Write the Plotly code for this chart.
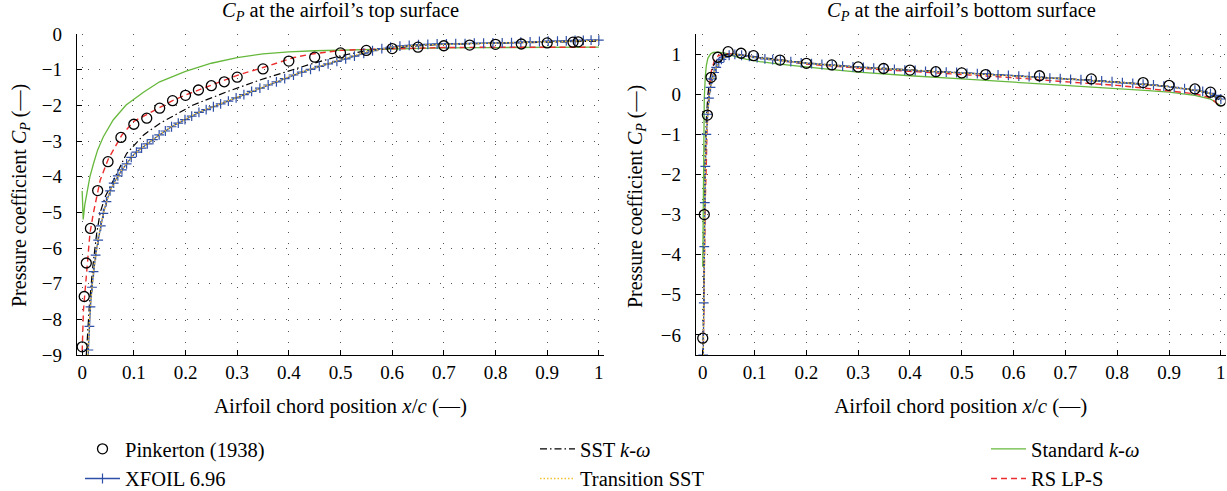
import plotly.graph_objects as go

FONT = "Liberation Serif"

# ---------------- Top surface ----------------
pink_top_x = [0.0, 0.004, 0.008, 0.016, 0.03, 0.05, 0.075, 0.1, 0.125, 0.15, 0.175, 0.2, 0.225,
              0.25, 0.275, 0.3, 0.35, 0.4, 0.45, 0.5, 0.55, 0.6, 0.65, 0.7, 0.75, 0.8, 0.85,
              0.9, 0.95, 0.96]
pink_top_y = [-8.77, -7.36, -6.42, -5.45, -4.39, -3.58, -2.90, -2.53, -2.36, -2.08, -1.87, -1.72,
              -1.57, -1.45, -1.34, -1.21, -0.98, -0.76, -0.65, -0.53, -0.46, -0.41, -0.37,
              -0.33, -0.31, -0.29, -0.28, -0.25, -0.23, -0.22]

xfoil_top_x = [0.012, 0.014, 0.016, 0.019, 0.022, 0.026, 0.031, 0.036, 0.041, 0.047, 0.054, 0.061,
               0.069, 0.077, 0.086, 0.095, 0.105, 0.115, 0.126, 0.137, 0.149, 0.161, 0.173, 0.186,
               0.199, 0.212, 0.226, 0.240, 0.254, 0.268, 0.283, 0.298, 0.313, 0.328, 0.344, 0.360,
               0.376, 0.392, 0.409, 0.425, 0.442, 0.459, 0.476, 0.493, 0.510, 0.527, 0.545, 0.562,
               0.580, 0.597, 0.615, 0.633, 0.651, 0.669, 0.687, 0.705, 0.723, 0.741, 0.759, 0.777,
               0.795, 0.813, 0.831, 0.849, 0.867, 0.885, 0.902, 0.920, 0.937, 0.954, 0.970, 0.985, 1.0]
xfoil_top_y = [-8.86, -8.2, -7.65, -7.1, -6.66, -6.2, -5.78, -5.38, -5.03, -4.7, -4.40, -4.18,
               -3.98, -3.81, -3.64, -3.46, -3.31, -3.20, -3.08, -2.96, -2.83, -2.72, -2.60, -2.50,
               -2.40, -2.30, -2.20, -2.12, -2.04, -1.96, -1.88, -1.79, -1.70, -1.61, -1.52, -1.43,
               -1.34, -1.25, -1.15, -1.07, -0.99, -0.91, -0.84, -0.77, -0.70, -0.62, -0.54, -0.47,
               -0.41, -0.37, -0.34, -0.32, -0.30, -0.29, -0.28, -0.28, -0.27, -0.27, -0.26, -0.26,
               -0.25, -0.25, -0.24, -0.23, -0.22, -0.21, -0.20, -0.20, -0.19, -0.18, -0.18, -0.17, -0.17]

sst_top_x = [0.008, 0.010, 0.014, 0.02, 0.028, 0.035, 0.045, 0.061, 0.086, 0.119, 0.151, 0.215,
             0.28, 0.344, 0.409, 0.441, 0.5, 0.55, 0.6, 0.65, 0.7, 0.8, 0.9, 1.0]
sst_top_y = [-9.0, -8.5, -7.6, -6.6, -5.6, -5.0, -4.55, -4.09, -3.35, -2.83, -2.50, -1.99,
             -1.62, -1.29, -0.99, -0.85, -0.61, -0.47, -0.40, -0.33, -0.29, -0.26, -0.22, -0.20]

trans_top_x = [0.011, 0.015, 0.022, 0.031, 0.041, 0.054, 0.077, 0.1, 0.13, 0.17, 0.22, 0.28,
               0.344, 0.41, 0.44, 0.5, 0.55, 0.6, 0.65, 0.7, 0.8, 0.9, 1.0]
trans_top_y = [-9.0, -7.8, -6.65, -5.75, -5.03, -4.39, -3.80, -3.38, -3.03, -2.62, -2.23, -1.89,
               -1.51, -1.14, -0.99, -0.73, -0.50, -0.37, -0.31, -0.29, -0.26, -0.21, -0.18]

std_top_x = [0.0, 0.001, 0.002, 0.005, 0.009, 0.015, 0.022, 0.03, 0.041, 0.06, 0.085, 0.12, 0.15,
             0.2, 0.25, 0.3, 0.35, 0.4, 0.45, 0.5, 0.55, 0.6, 0.7, 0.8, 0.9, 1.0]
std_top_y = [-4.4, -4.9, -5.2, -4.8, -4.45, -4.0, -3.63, -3.25, -2.88, -2.41, -1.99, -1.62, -1.34,
             -1.05, -0.82, -0.66, -0.56, -0.50, -0.47, -0.45, -0.44, -0.41, -0.39, -0.38, -0.38, -0.37]

rs_top_x = [0.0, 0.0025, 0.008, 0.015, 0.022, 0.035, 0.051, 0.077, 0.1, 0.125, 0.151, 0.175, 0.2,
            0.25, 0.3, 0.35, 0.41, 0.44, 0.5, 0.55, 0.6, 0.7, 0.8, 0.9, 1.0]
rs_top_y = [-8.9, -7.74, -6.8, -5.59, -5.0, -4.09, -3.49, -2.83, -2.45, -2.25, -2.05, -1.87, -1.71,
            -1.43, -1.16, -0.94, -0.66, -0.57, -0.46, -0.43, -0.41, -0.38, -0.37, -0.37, -0.37]

# ---------------- Bottom surface ----------------
pink_bot_x = [0.0, 0.003, 0.009, 0.016, 0.029, 0.049, 0.074, 0.098, 0.149, 0.2, 0.249, 0.3, 0.349,
              0.4, 0.45, 0.5, 0.546, 0.65, 0.75, 0.85, 0.9, 0.95, 0.98, 1.0]
pink_bot_y = [-6.08, -3.0, -0.52, 0.42, 0.92, 1.06, 1.02, 0.96, 0.85, 0.77, 0.73, 0.68, 0.64,
              0.60, 0.56, 0.53, 0.49, 0.46, 0.38, 0.29, 0.22, 0.13, 0.05, -0.17]

xfoil_bot_x = [0.001, 0.002, 0.003, 0.004, 0.005, 0.007, 0.009, 0.012, 0.015, 0.018, 0.022, 0.026,
               0.031, 0.036, 0.041, 0.051, 0.062, 0.075, 0.09, 0.105, 0.12, 0.135, 0.15, 0.17,
               0.19, 0.21, 0.23, 0.25, 0.27, 0.29, 0.31, 0.33, 0.35, 0.37, 0.39, 0.41, 0.43, 0.45,
               0.47, 0.49, 0.51, 0.53, 0.55, 0.57, 0.59, 0.61, 0.63, 0.65, 0.67, 0.69, 0.71, 0.73,
               0.75, 0.77, 0.79, 0.81, 0.83, 0.85, 0.87, 0.89, 0.91, 0.93, 0.95, 0.965, 0.98, 0.99, 1.0]
xfoil_bot_y = [-6.5, -5.2, -3.8, -2.7, -1.8, -1.0, -0.5, -0.1, 0.17, 0.38, 0.54, 0.67,
               0.79, 0.87, 0.92, 0.97, 0.99, 0.97, 0.94, 0.91, 0.88, 0.86, 0.84, 0.81,
               0.78, 0.76, 0.74, 0.72, 0.70, 0.68, 0.67, 0.65, 0.63, 0.62, 0.60, 0.59, 0.57, 0.56,
               0.55, 0.54, 0.52, 0.51, 0.50, 0.48, 0.47, 0.45, 0.44, 0.42, 0.40, 0.39, 0.37, 0.36,
               0.34, 0.33, 0.31, 0.29, 0.27, 0.25, 0.23, 0.20, 0.17, 0.14, 0.10, 0.07, 0.02, -0.03, -0.12]

sst_bot_x = [0.0005, 0.0015, 0.0025, 0.0035, 0.005, 0.007, 0.01, 0.014, 0.02, 0.03, 0.045, 0.06,
             0.08, 0.1, 0.15, 0.2, 0.3, 0.4, 0.5, 0.6, 0.7, 0.8, 0.9, 0.95, 0.98, 1.0]
sst_bot_y = [-6.5, -5.0, -3.5, -2.3, -1.3, -0.6, 0.0, 0.4, 0.7, 0.9, 0.99, 1.0,
             0.97, 0.94, 0.86, 0.78, 0.68, 0.61, 0.54, 0.47, 0.39, 0.31, 0.19, 0.10, 0.01, -0.17]

trans_bot_x = [0.001, 0.002, 0.003, 0.005, 0.007, 0.009, 0.012, 0.015, 0.022, 0.031, 0.041, 0.051,
               0.062, 0.08, 0.1, 0.15, 0.2, 0.3, 0.4, 0.5, 0.6, 0.7, 0.8, 0.9, 0.95, 0.98, 1.0]
trans_bot_y = [-6.5, -5.1, -3.7, -1.8, -1.0, -0.5, -0.1, 0.18, 0.55, 0.79, 0.92, 0.97,
               0.99, 0.96, 0.92, 0.84, 0.77, 0.67, 0.60, 0.53, 0.46, 0.38, 0.30, 0.19, 0.10, 0.02, -0.13]

std_bot_x = [0.0, 0.0005, 0.001, 0.0015, 0.002, 0.003, 0.005, 0.007, 0.01, 0.015, 0.02, 0.03,
             0.045, 0.06, 0.083, 0.11, 0.148, 0.2, 0.25, 0.3, 0.35, 0.4, 0.5, 0.6, 0.7, 0.8,
             0.86, 0.9, 0.95, 0.98, 1.0]
std_bot_y = [-4.3, -3.0, -2.0, -1.2, -0.6, -0.1, 0.45, 0.72, 0.9, 1.0, 1.04, 1.05,
             1.02, 0.95, 0.875, 0.81, 0.75, 0.67, 0.61, 0.55, 0.50, 0.46, 0.38, 0.30, 0.22, 0.15,
             0.09, 0.05, -0.03, -0.12, -0.29]

rs_bot_x = [0.001, 0.002, 0.003, 0.004, 0.005, 0.007, 0.008, 0.012, 0.017, 0.023, 0.03, 0.045,
            0.06, 0.1, 0.15, 0.2, 0.3, 0.4, 0.5, 0.6, 0.7, 0.8, 0.86, 0.9, 0.95, 0.98, 1.0]
rs_bot_y = [-6.5, -5.3, -4.3, -3.3, -2.6, -1.7, -1.0, 0.1, 0.6, 0.85, 0.96, 1.01,
            1.0, 0.93, 0.84, 0.75, 0.65, 0.57, 0.48, 0.41, 0.31, 0.22, 0.14, 0.08, 0.01, -0.09, -0.32]

# ---------------- Styles ----------------
C_BLUE = "#2f4fa6"
C_GREEN = "#66b83c"
C_RED = "#ec2d2d"
C_YEL = "#f2c230"

W, H = 1227, 491
TICK_SIZE = 19
LEG_SIZE = 20.5


def px(v):
    return v / W


def py(v):
    return 1 - v / H


fig = go.Figure()


def add_lines(xa, ya, sets, show):
    for name, x, y, line, mode, marker, rank, leg in sets:
        fig.add_trace(go.Scatter(x=x, y=y, name=name, mode=mode, line=line, marker=marker,
                                 xaxis=xa, yaxis=ya, showlegend=show,
                                 legendrank=rank, legend=leg))


def series(top):
    P = (pink_top_x, pink_top_y) if top else (pink_bot_x, pink_bot_y)
    XF = (xfoil_top_x, xfoil_top_y) if top else (xfoil_bot_x, xfoil_bot_y)
    SS = (sst_top_x, sst_top_y) if top else (sst_bot_x, sst_bot_y)
    TR = (trans_top_x, trans_top_y) if top else (trans_bot_x, trans_bot_y)
    ST = (std_top_x, std_top_y) if top else (std_bot_x, std_bot_y)
    RS = (rs_top_x, rs_top_y) if top else (rs_bot_x, rs_bot_y)
    return [
        ("Standard <i>k</i>-<i>ω</i>", ST[0], ST[1], dict(color=C_GREEN, width=1.3), "lines", None, 1, "legend3"),
        ("RS LP-S", RS[0], RS[1], dict(color=C_RED, width=1.4, dash="6px,4px"), "lines", None, 2, "legend3"),
        ("SST <i>k</i>-<i>ω</i>", SS[0], SS[1], dict(color="black", width=1.2, dash="7px,3px,1.5px,3px"),
         "lines", None, 1, "legend2"),
        ("XFOIL 6.96", XF[0], XF[1], dict(color=C_BLUE, width=1.3), "lines+markers",
         dict(symbol="cross-thin", size=7, line=dict(color=C_BLUE, width=1.2)), 2, "legend"),
        ("Transition SST", TR[0], TR[1], dict(color=C_YEL, width=1.4, dash="1.5px,2px"), "lines", None, 2, "legend2"),
        ("Pinkerton (1938)", P[0], P[1], None, "markers",
         dict(symbol="circle-open", size=10, color="black", line=dict(color="black", width=1.3)), 1, "legend"),
    ]


add_lines("x", "y", series(True), True)
add_lines("x2", "y2", series(False), False)

ax_common = dict(
    showline=True, linecolor="black", linewidth=1.3, mirror=False,
    ticks="inside", ticklen=5, tickwidth=1.2, tickcolor="black",
    showgrid=True, gridcolor="#555555", gridwidth=1, griddash="1px,10px",
    zeroline=False, automargin=False,
    tickfont=dict(family=FONT, size=TICK_SIZE, color="black"),
)

XT = dict(text="Airfoil chord position <i>x</i>/<i>c</i> (—)", standoff=16,
          font=dict(family=FONT, size=21, color="black"))
YT_TEXT = "Pressure coefficient <i>C<sub>P</sub></i> (—)"
ydom = [py(355), py(34)]


def leg(x):
    return dict(orientation="v", xref="container", yref="container",
                x=px(x), xanchor="left", y=py(429), yanchor="top",
                font=dict(family=FONT, size=LEG_SIZE, color="black"),
                itemwidth=35, bgcolor="rgba(0,0,0,0)", tracegroupgap=0)


fig.update_layout(
    width=W, height=H,
    margin=dict(l=0, r=0, t=0, b=0, autoexpand=False),
    paper_bgcolor="white", plot_bgcolor="white",
    font=dict(family=FONT, size=TICK_SIZE, color="black"),
    xaxis=dict(domain=[px(77), px(604)], range=[-0.01, 1.01], dtick=0.1, tick0=0,
               ticklabelstandoff=0, title=XT, **ax_common),
    yaxis=dict(domain=ydom, range=[-9, 0], dtick=1, ticklabelstandoff=10, **ax_common),
    xaxis2=dict(domain=[px(696), px(1225.5)], range=[-0.013, 1.009], dtick=0.1, tick0=0, anchor="y2",
                ticklabelstandoff=0, title=XT, **ax_common),
    yaxis2=dict(domain=ydom, range=[-6.5, 1.5], dtick=1, anchor="x2", ticklabelstandoff=10, **ax_common),
    legend=leg(80),
    legend2=leg(535),
    legend3=leg(986),
    showlegend=True,
)

for xc in (20, 636):
    fig.add_annotation(text=YT_TEXT, x=px(xc), y=py(196), xref="paper", yref="paper",
                       xanchor="center", yanchor="middle", textangle=-90, showarrow=False,
                       font=dict(family=FONT, size=20, color="black"))

fig.add_annotation(text="<i>C<sub>P</sub></i> at the airfoil’s top surface", x=px(340), y=py(12),
                   xref="paper", yref="paper", xanchor="center", yanchor="middle", showarrow=False,
                   font=dict(family=FONT, size=20.5))
fig.add_annotation(text="<i>C<sub>P</sub></i> at the airfoil’s bottom surface", x=px(962), y=py(12),
                   xref="paper", yref="paper", xanchor="center", yanchor="middle", showarrow=False,
                   font=dict(family=FONT, size=20.5))

# remove the default 8px page margin so the 1227x491 figure fills the window exactly
fig.write_html("out.html", config={"displayModeBar": False},
               post_script="document.body.style.margin='0px';")
